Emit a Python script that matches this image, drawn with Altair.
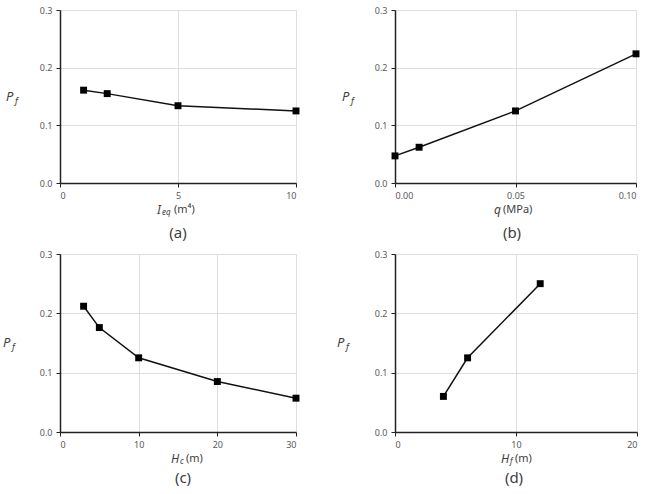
import altair as alt
import pandas as pd

# Panel (a): equivalent moment of inertia vs failure probability
ieq_x = [1, 2, 5, 10]
ieq_pf = [0.161, 0.155, 0.134, 0.125]

# Panel (b): surcharge pressure
q_x = [0.0, 0.01, 0.05, 0.10]
q_pf = [0.047, 0.062, 0.125, 0.224]

# Panel (c): height H_c
hc_x = [3, 5, 10, 20, 30]
hc_pf = [0.212, 0.176, 0.125, 0.085, 0.057]

# Panel (d): height H_f
hf_x = [4, 6, 12]
hf_pf = [0.060, 0.125, 0.250]

y_ticks = [0.0, 0.1, 0.2, 0.3]

FONT = "Noto Sans"
LABEL_COLOR = "#595959"
GRID_COLOR = "#dedede"


def text_layer(text, x, y, size=12, italic=False, align="left", color="#404040"):
    return alt.Chart(alt.Data(values=[{}])).mark_text(
        text=text, font=FONT, fontSize=size, align=align, baseline="middle",
        fontStyle="italic" if italic else "normal", color=color,
    ).encode(x=alt.value(x), y=alt.value(y))


def panel(xs, ys, x_domain, x_ticks, x_fmt, w, h, title_parts, tag, tag_x, tag_dy, py_x):
    df = pd.DataFrame({"x": xs, "pf": ys})
    x_enc = alt.X(
        "x:Q",
        scale=alt.Scale(domain=x_domain, nice=False),
        axis=alt.Axis(values=x_ticks, format=x_fmt, title=None, grid=True,
                      gridColor=GRID_COLOR, domainColor="#222", domainWidth=1.5,
                      tickColor="#222", tickSize=4, labelColor=LABEL_COLOR,
                      labelFont=FONT, labelFontSize=9, labelPadding=4),
    )
    y_enc = alt.Y(
        "pf:Q",
        scale=alt.Scale(domain=[0, 0.3], nice=False),
        axis=alt.Axis(values=y_ticks, format=".1f", title=None, grid=True,
                      gridColor=GRID_COLOR, domainColor="#222", domainWidth=1.5,
                      tickColor="#222", tickSize=4, labelColor=LABEL_COLOR,
                      labelFont=FONT, labelFontSize=9, labelPadding=4),
    )
    base = alt.Chart(df).encode(x=x_enc, y=y_enc)
    line = base.mark_line(color="#111", strokeWidth=1.5)
    pts = base.mark_square(size=48, color="#000", opacity=1)

    layers = [line, pts]
    # x-axis title built from pieces (main letter, subscript, unit)
    for txt, tx, dy, size, italic in title_parts:
        layers.append(text_layer(txt, tx, h + 27 + dy, size=size, italic=italic))
    # y-axis title P_f
    layers.append(text_layer("P", py_x, h / 2, size=13, italic=True))
    layers.append(text_layer("f", py_x + 9, h / 2 + 4, size=9, italic=True))
    # panel tag
    layers.append(text_layer(tag, tag_x, h + tag_dy, size=15, align="center"))

    return alt.layer(*layers).properties(width=w, height=h)


pa = panel(ieq_x, ieq_pf, [0, 10], [0, 5, 10], "d", 236, 173,
           [("I", 97, 0, 12, True), ("eq", 102, 3, 8, True), ("(m⁴)", 114, 0, 11, False)],
           "(a)", 118, 50, -54)
pb = panel(q_x, q_pf, [0, 0.10], [0.0, 0.05, 0.10], ".2f", 241, 173,
           [("q", 99, 0, 12, True), ("(MPa)", 108, 0, 11, False)],
           "(b)", 117, 50, -53)
pc = panel(hc_x, hc_pf, [0, 30], [0, 10, 20, 30], "d", 236, 178,
           [("H", 111, 0, 12, True), ("c", 120, 3, 8, True), ("(m)", 126, 0, 11, False)],
           "(c)", 123, 46, -57)
pd_ = panel(hf_x, hf_pf, [0, 20], [0, 10, 20], "d", 242, 178,
            [("H", 106, 0, 12, True), ("f", 115, 3, 8, True), ("(m)", 120, 0, 11, False)],
            "(d)", 119, 46, -58)

chart = alt.concat(
    pa, pb, pc, pd_, columns=2, bounds="flush",
    spacing={"column": 99, "row": 71},
).properties(
    padding={"left": 2, "top": 5, "right": 0, "bottom": 0},
).configure_view(stroke=None).configure(background="white")

chart.save("out.html", embed_options={"renderer": "svg", "actions": False})
